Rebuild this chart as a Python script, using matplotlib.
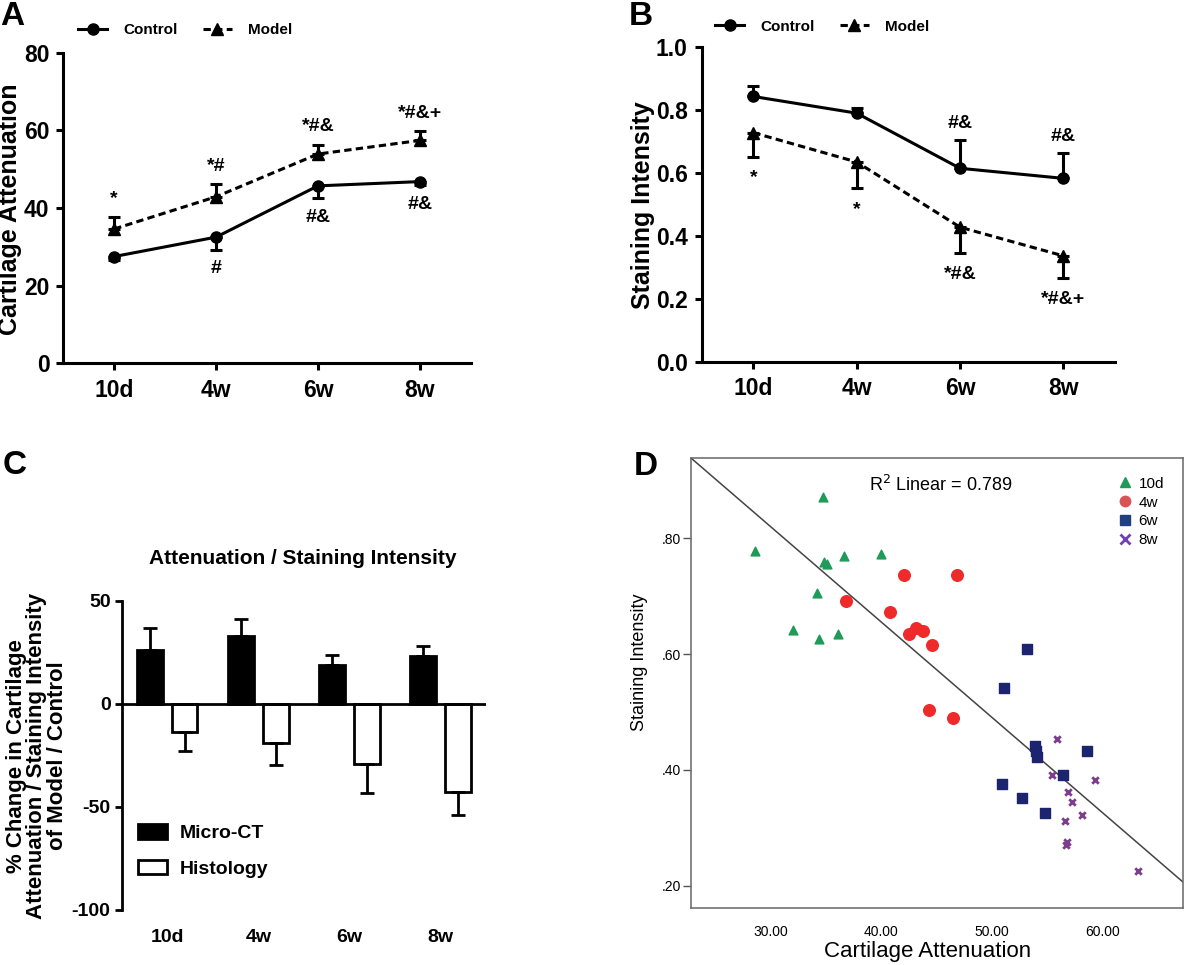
import matplotlib
matplotlib.use("Agg")
import matplotlib.pyplot as plt
from matplotlib.lines import Line2D
from matplotlib.patches import Patch
import numpy as np

W, H = 1200, 965
narrow = ["Liberation Sans Narrow", "Liberation Sans", "DejaVu Sans"]
arial = ["Liberation Sans", "DejaVu Sans"]
plt.rcParams["font.family"] = arial
plt.rcParams["axes.unicode_minus"] = False

groups = ["10d", "4w", "6w", "8w"]

# A - cartilage attenuation
atten_control = [27.5, 32.5, 45.7, 46.8]
atten_control_err = [0.8, 3.2, 3.2, 1.0]
atten_model = [34.6, 42.9, 53.9, 57.4]
atten_model_err = [3.1, 3.2, 2.4, 2.4]
atten_marks_model = ["*", "*#", "*#&", "*#&+"]
atten_marks_control = ["", "#", "#&", "#&"]

# B - staining intensity
stain_control = [0.842, 0.789, 0.614, 0.582]
stain_control_err = [0.033, 0.015, 0.09, 0.081]
stain_model = [0.727, 0.634, 0.427, 0.336]
stain_model_err = [0.076, 0.084, 0.083, 0.071]
stain_marks_control = ["", "", "#&", "#&"]
stain_marks_model = ["*", "*", "*#&", "*#&+"]

# C - % change model / control
change_ct = [26.3, 32.7, 18.7, 23.0]
change_ct_err = [10.5, 8.6, 4.8, 4.9]
change_hist = [-13.6, -19.2, -29.4, -42.6]
change_hist_err = [9.3, 10.5, 13.7, 11.3]

# D - scatter per time point
d10_x = [34.7, 28.6, 34.8, 35.1, 36.6, 40.0, 34.2, 32.0, 34.4, 36.1]
d10_y = [0.871, 0.777, 0.758, 0.756, 0.769, 0.773, 0.706, 0.642, 0.626, 0.634]
d4_x = [42.0, 46.8, 36.8, 40.8, 42.5, 43.1, 43.8, 44.6, 44.3, 46.5]
d4_y = [0.737, 0.736, 0.692, 0.672, 0.634, 0.645, 0.639, 0.616, 0.504, 0.489]
d6_x = [53.2, 51.1, 53.9, 54.0, 54.1, 58.6, 56.4, 50.9, 52.7, 54.8]
d6_y = [0.609, 0.542, 0.442, 0.432, 0.423, 0.433, 0.392, 0.375, 0.352, 0.326]
d8_x = [55.9, 55.4, 59.3, 56.9, 57.2, 58.1, 56.6, 56.7, 56.8, 63.2]
d8_y = [0.453, 0.391, 0.383, 0.362, 0.345, 0.323, 0.312, 0.271, 0.275, 0.226]
fit_slope = -0.01645
fit_intercept = 1.313
r2 = 0.789


def box(x0, y0, x1, y1):
    return [x0 / W, 1 - y1 / H, (x1 - x0) / W, (y1 - y0) / H]


def bold_ticks(ax, size, family=narrow):
    for lab in ax.get_xticklabels() + ax.get_yticklabels():
        lab.set_family(family)
        lab.set_fontweight("bold")
        lab.set_fontsize(size)


fig = plt.figure(figsize=(W / 100, H / 100), dpi=100)
x = np.arange(len(groups))
dash = (0, (2.4, 1.4))
zeros = [0] * 4


def line_panel(ax, ctrl, ctrl_err, model, model_err, ctrl_up):
    ce = [zeros, ctrl_err] if ctrl_up else [ctrl_err, zeros]
    me = [model_err, zeros] if ctrl_up else [zeros, model_err]
    ax.errorbar(x, ctrl, yerr=ce, fmt="-o", color="black", lw=2.2, ms=8,
                elinewidth=2.2, capsize=4, capthick=2.2)
    ax.errorbar(x, model, yerr=me, fmt="^", ls=dash, color="black", lw=2.2,
                ms=8.5, elinewidth=2.2, capsize=4, capthick=2.2)
    ax.set_xlim(-0.5, 3.5)
    ax.set_xticks(x)
    ax.set_xticklabels(groups)
    for s in ["top", "right"]:
        ax.spines[s].set_visible(False)
    for s in ["left", "bottom"]:
        ax.spines[s].set_linewidth(2.2)
    ax.tick_params(width=2.2, length=5, pad=5)
    ax.tick_params(axis="x", pad=6)


def top_legend(ax, x0, y0):
    hs = [Line2D([], [], color="black", lw=2.2, marker="o", ms=8),
          Line2D([], [], color="black", lw=2.2, ls=dash, marker="^", ms=8.5)]
    ax.legend(hs, ["Control", "Model"], ncol=2, loc="center left",
              bbox_to_anchor=(x0 / W, 1 - y0 / H), bbox_transform=fig.transFigure,
              frameon=False, borderpad=0, borderaxespad=0, handlelength=1.9,
              handletextpad=1.1, columnspacing=1.6,
              prop={"weight": "bold", "size": 11})


def letter(px, py, s):
    fig.text(px / W, 1 - py / H, s, ha="center", va="top", fontsize=24,
             fontweight="bold")


# ---- A
axA = fig.add_axes(box(63.3, 52.7, 470.7, 363.3))
line_panel(axA, atten_control, atten_control_err, atten_model, atten_model_err, False)
axA.set_ylim(0, 80)
axA.set_yticks([0, 20, 40, 60, 80])
bold_ticks(axA, 16.5)
for i in range(4):
    axA.annotate(atten_marks_model[i], (x[i], atten_model[i] + atten_model_err[i]),
                 xytext=(0, 13), textcoords="offset points", ha="center", va="center",
                 fontsize=14, fontweight="bold")
    if atten_marks_control[i]:
        axA.annotate(atten_marks_control[i], (x[i], atten_control[i] - atten_control_err[i]),
                     xytext=(0, -14), textcoords="offset points", ha="center", va="center",
                     fontsize=14, fontweight="bold")
top_legend(axA, 78, 30)
fig.text(10 / W, 1 - 209 / H, "Cartilage Attenuation", rotation=90, ha="center",
         va="center", fontsize=18, fontweight="bold")
letter(12, 1, "A")

# ---- B
axB = fig.add_axes(box(701.7, 46.7, 1115, 361.7))
line_panel(axB, stain_control, stain_control_err, stain_model, stain_model_err, True)
axB.set_ylim(0, 1.0)
axB.set_yticks([0, 0.2, 0.4, 0.6, 0.8, 1.0])
axB.set_yticklabels([f"{v:.1f}" for v in [0, 0.2, 0.4, 0.6, 0.8, 1.0]])
bold_ticks(axB, 16.5)
for i in range(4):
    axB.annotate(stain_marks_model[i], (x[i], stain_model[i] - stain_model_err[i]),
                 xytext=(0, -15), textcoords="offset points", ha="center", va="center",
                 fontsize=14, fontweight="bold")
    if stain_marks_control[i]:
        axB.annotate(stain_marks_control[i], (x[i], stain_control[i] + stain_control_err[i]),
                     xytext=(0, 12), textcoords="offset points", ha="center", va="center",
                     fontsize=14, fontweight="bold")
top_legend(axB, 715, 26.7)
fig.text(643 / W, 1 - 205 / H, "Staining Intensity", rotation=90, ha="center",
         va="center", fontsize=18, fontweight="bold")
letter(641, 1, "B")

# ---- C
axC = fig.add_axes(box(121.7, 600.7, 486, 910))
ekw = dict(elinewidth=2, capsize=5, capthick=2, ecolor="black")
axC.bar(x - 0.19, change_ct, 0.283, color="black", edgecolor="black", lw=2,
        yerr=[zeros, change_ct_err], error_kw=ekw, label="Micro-CT")
axC.bar(x + 0.19, change_hist, 0.283, color="white", edgecolor="black", lw=2,
        yerr=[change_hist_err, zeros], error_kw=ekw, label="Histology")
axC.axhline(0, color="black", lw=2)
axC.set_xlim(-0.5, 3.5)
axC.set_ylim(-100, 50)
axC.set_yticks([-100, -50, 0, 50])
axC.set_xticks(x)
axC.set_xticklabels(groups)
for s in ["top", "right", "bottom"]:
    axC.spines[s].set_visible(False)
axC.spines["left"].set_linewidth(2)
axC.tick_params(axis="y", width=2, length=5, pad=3)
axC.tick_params(axis="x", length=0, pad=14)
bold_ticks(axC, 14)
axC.legend(handles=[Patch(facecolor="black", edgecolor="black", lw=2),
                    Patch(facecolor="white", edgecolor="black", lw=2)],
           labels=["Micro-CT", "Histology"], loc="center left",
           bbox_to_anchor=(138 / W, 1 - 851 / H), bbox_transform=fig.transFigure,
           frameon=False, borderpad=0, borderaxespad=0, handlelength=1.5,
           handleheight=0.77, handletextpad=0.67, labelspacing=0.9,
           prop={"family": narrow, "weight": "bold", "size": 14})
fig.text(303 / W, 1 - 559 / H, "Attenuation / Staining Intensity", ha="center",
         va="center", fontsize=15, fontweight="bold", family=narrow)
fig.text(37 / W, 1 - 756 / H,
         "% Change in Cartilage\nAttenuation / Staining Intensity\nof Model / Control",
         rotation=90, ha="center", va="center", ma="center", fontsize=16,
         fontweight="bold", linespacing=0.95)
letter(15, 450, "C")

# ---- D
axD = fig.add_axes(box(691, 458, 1183, 908))
axD.set_xlim(22.8, 67.25)
axD.set_ylim(0.162, 0.938)
xs = np.array(axD.get_xlim())
axD.plot(xs, fit_intercept + fit_slope * xs, color="#444444", lw=1.1, zorder=1)
c10, c4, c6, c8 = "#1e9b58", "#ee2a2a", "#1c2470", "#7d3d8f"
axD.scatter(d10_x, d10_y, marker="^", s=40, color=c10, zorder=3)
axD.scatter(d4_x, d4_y, marker="o", s=70, color=c4, zorder=3)
axD.scatter(d6_x, d6_y, marker="s", s=55, color=c6, zorder=3)
axD.scatter(d8_x, d8_y, marker="x", s=22, color=c8, lw=2, zorder=3)
axD.set_xticks([30, 40, 50, 60])
axD.set_xticklabels(["30.00", "40.00", "50.00", "60.00"])
axD.set_yticks([0.2, 0.4, 0.6, 0.8])
axD.set_yticklabels([".20", ".40", ".60", ".80"])
for s in axD.spines.values():
    s.set_color("#666666")
    s.set_linewidth(1.1)
axD.tick_params(axis="y", color="#555555", length=6, width=1, pad=1, labelsize=10)
axD.tick_params(axis="x", length=0, pad=12, labelsize=10)
axD.text(0.508, 0.94, f"R$^2$ Linear = {r2}", transform=axD.transAxes,
         ha="center", va="center", fontsize=13)
dh = [Line2D([], [], ls="", marker="^", ms=7, color=c10),
      Line2D([], [], ls="", marker="o", ms=7.5, color="#d95555"),
      Line2D([], [], ls="", marker="s", ms=7, color="#1f3f80"),
      Line2D([], [], ls="", marker="x", ms=7, mew=2, color="#7040b0")]
axD.legend(dh, groups, loc="center left", bbox_to_anchor=(1117 / W, 1 - 512 / H),
           bbox_transform=fig.transFigure, frameon=False, borderpad=0,
           borderaxespad=0, handlelength=1.0, handletextpad=0.4,
           labelspacing=0.32, fontsize=11)
fig.text(928 / W, 1 - 957 / H, "Cartilage Attenuation", ha="center",
         va="baseline", fontsize=16)
fig.text(640 / W, 1 - 662 / H, "Staining Intensity", rotation=90, ha="center",
         va="center", fontsize=13)
letter(646, 451, "D")

fig.savefig("out.png", dpi=100)
